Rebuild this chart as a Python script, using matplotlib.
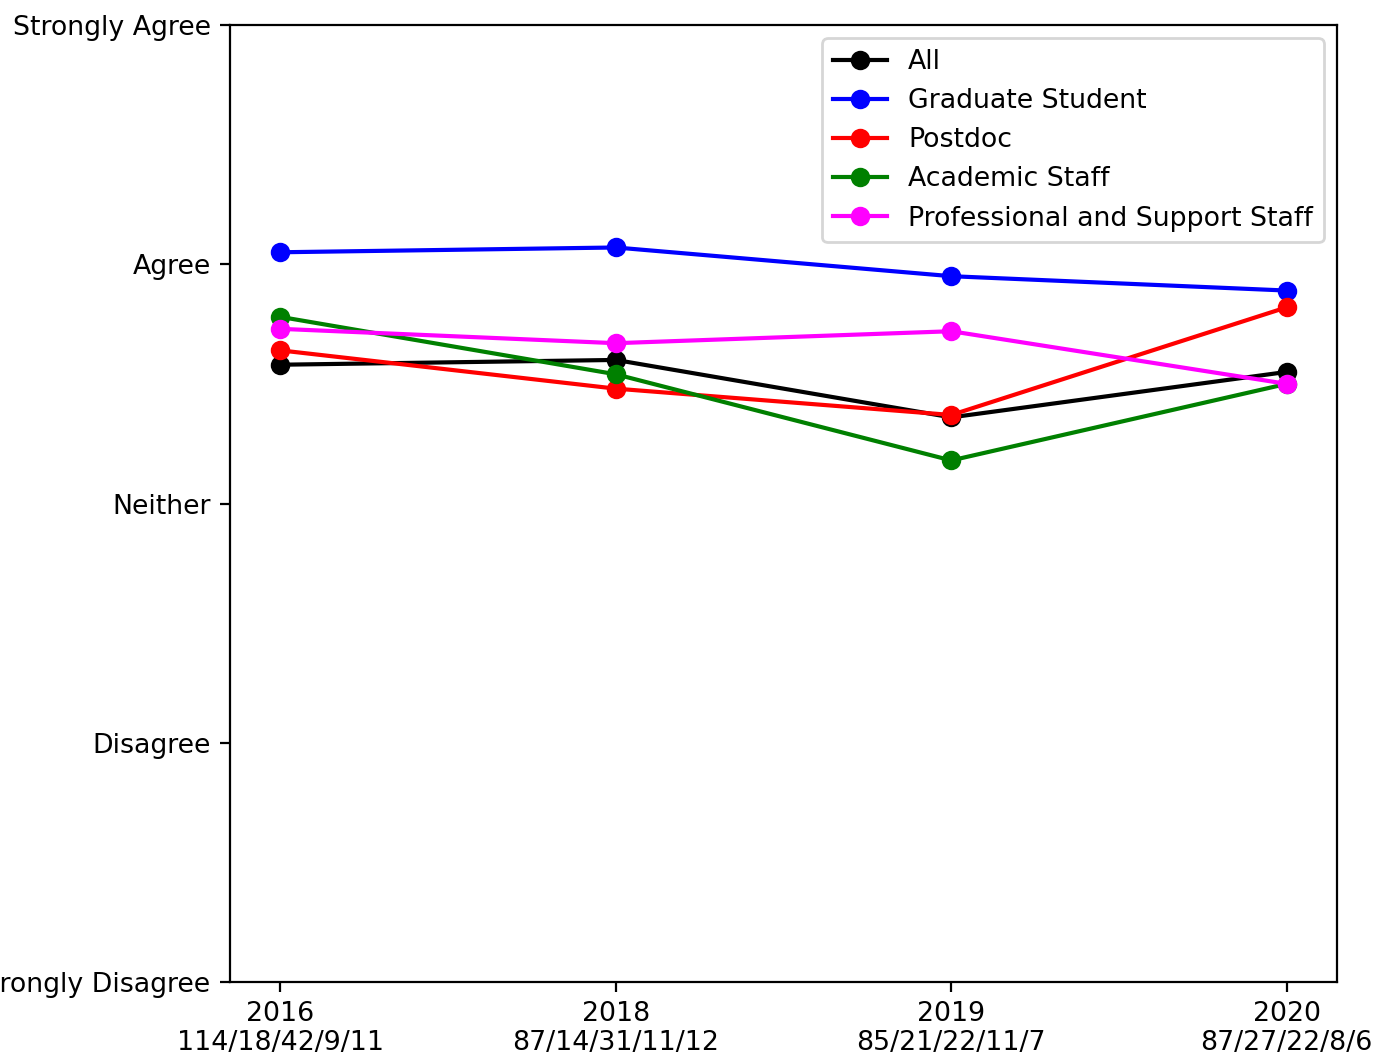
import matplotlib
matplotlib.use('Agg')
import matplotlib.pyplot as plt

# survey years and respondent counts (All/Grad/Postdoc/Academic/Professional)
years = ['2016', '2018', '2019', '2020']
counts = ['114/18/42/9/11', '87/14/31/11/12', '85/21/22/11/7', '87/27/22/8/6']
likert = ['Strongly Disagree', 'Disagree', 'Neither', 'Agree', 'Strongly Agree']

all_resp = [3.58, 3.60, 3.36, 3.55]
grad_student = [4.05, 4.07, 3.95, 3.89]
postdoc = [3.64, 3.48, 3.37, 3.82]
academic_staff = [3.78, 3.54, 3.18, 3.50]
professional_staff = [3.73, 3.67, 3.72, 3.50]

series = [
    ('All', all_resp, 'black'),
    ('Graduate Student', grad_student, 'blue'),
    ('Postdoc', postdoc, 'red'),
    ('Academic Staff', academic_staff, 'green'),
    ('Professional and Support Staff', professional_staff, 'magenta'),
]

plt.rcParams['font.size'] = 9.65

fig = plt.figure(figsize=(6.88, 5.29), dpi=200)
ax = fig.add_axes([0.1672, 0.0718, 0.8045, 0.9046])

x = list(range(len(years)))
for name, vals, col in series:
    ax.plot(x, vals, marker='o', color=col, label=name)

ax.set_xticks(x)
ax.set_xticklabels([f'{y}\n{c}' for y, c in zip(years, counts)], linespacing=1.15)
ax.set_ylim(1, 5)
ax.set_yticks([1, 2, 3, 4, 5])
ax.set_yticklabels(likert)
ax.legend(loc='upper right', labelspacing=0.49)

fig.savefig('out.png', dpi=200)
